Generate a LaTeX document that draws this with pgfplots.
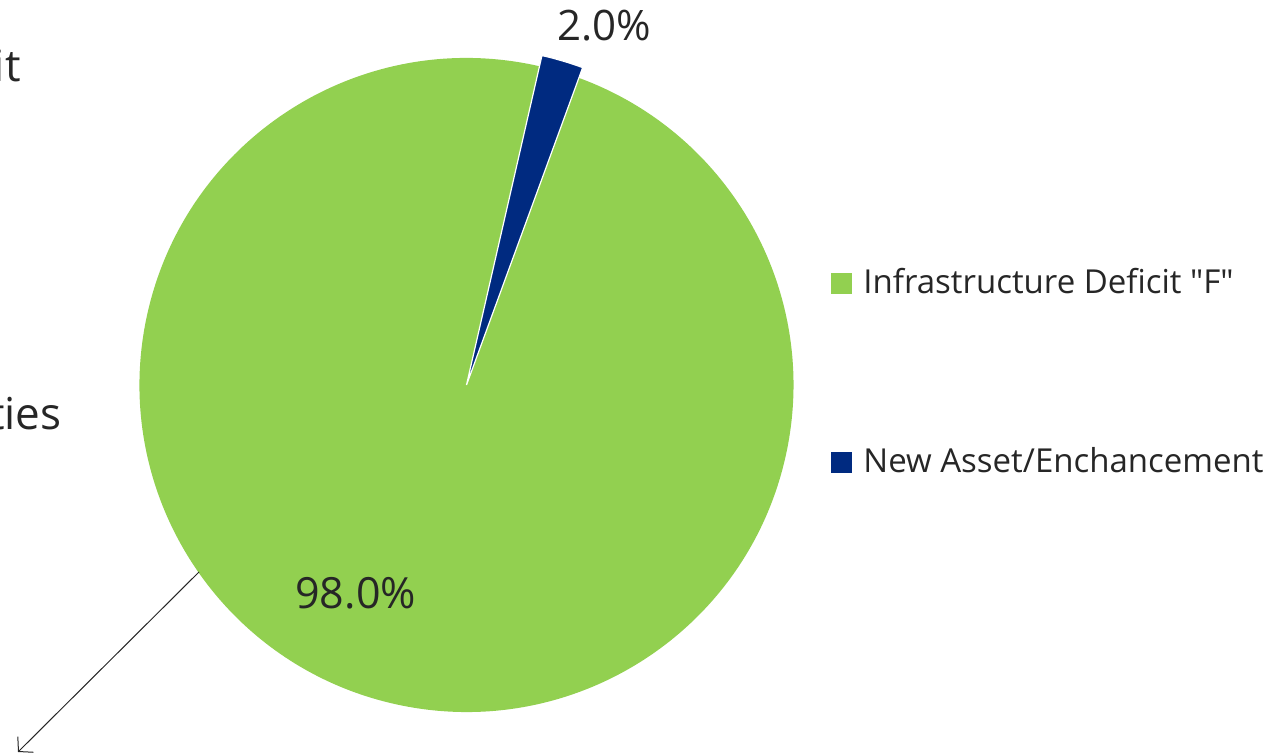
\documentclass[border=0pt]{standalone}
\usepackage{pgfplots}
\pgfplotsset{compat=1.18}
\usepackage{pgfplotstable}
\usetikzlibrary{arrows.meta}
\usepackage{fontspec}
\setmainfont{Open Sans}[Ligatures=TeXOff]
\definecolor{pgreen}{HTML}{92D050}
\definecolor{pblue}{HTML}{002A80}
\definecolor{ptext}{HTML}{262626}
\pgfplotstableread{
value
98.0
2.0
}\piedata
\begin{document}
\begin{tikzpicture}[x=0.5pt,y=0.5pt]
\useasboundingbox (0,0) rectangle (1276,755);
\clip (0,0) rectangle (1276,755);
\pgfplotstablegetelem{0}{value}\of\piedata \let\vA\pgfplotsretval
\pgfplotstablegetelem{1}{value}\of\piedata \let\vB\pgfplotsretval
\pgfmathsetmacro\bstart{69.9}
\pgfmathsetmacro\bend{\bstart+3.6*\vB}
\pgfmathsetmacro\gend{\bend+3.6*\vA}
\pgfmathsetmacro\gx{466.5+327*cos(\bend)}
\pgfmathsetmacro\gy{370+327*sin(\bend)}
\pgfmathsetmacro\bx{466.5+338*cos(\bstart)}
\pgfmathsetmacro\by{370+338*sin(\bstart)}
\begin{axis}[at={(0,0)},anchor=origin,width=638pt,height=377.5pt,scale only axis,
  xmin=0,xmax=1276,ymin=0,ymax=755,hide axis,clip=false]
\fill[pgreen] (axis cs:466.5,370) -- (axis cs:\gx,\gy) arc[start angle=\bend, end angle=\gend, radius=163.5pt] -- cycle;
\fill[pblue,draw=white,line width=0.6pt] (axis cs:466.5,370) -- (axis cs:\bx,\by) arc[start angle=\bstart, end angle=\bend, radius=169pt] -- cycle;
\draw[ptext,line width=0.5pt,-{Straight Barb[length=5pt,width=11pt]}] (axis cs:199,183) -- (axis cs:18,3);
\node[anchor=base west,inner sep=0,text=ptext,font=\fontsize{21.5}{26}\selectfont] at (axis cs:295,146) {98.0\%};
\node[anchor=base west,inner sep=0,text=ptext,font=\fontsize{21}{25}\selectfont] at (axis cs:557,714.3) {2.0\%};
\fill[pgreen] (axis cs:831,461) rectangle (axis cs:852,482);
\node[anchor=base west,inner sep=0,text=ptext,font=\fontsize{16.5}{20}\selectfont] at (axis cs:863,461) {Infrastructure Deficit "F"};
\fill[pblue] (axis cs:831,282) rectangle (axis cs:852,303);
\node[anchor=base west,inner sep=0,text=ptext,font=\fontsize{16.5}{20}\selectfont] at (axis cs:863,282) {New Asset/Enchancement};
\node[anchor=base east,inner sep=0,text=ptext,font=\fontsize{22}{26}\selectfont] at (axis cs:21,673) {Deficit};
\node[anchor=base east,inner sep=0,text=ptext,font=\fontsize{22}{26}\selectfont] at (axis cs:62,325) {Facilities};
\node[anchor=base west,inner sep=0,text=ptext,font=\fontsize{22}{26}\selectfont] at (axis cs:500,765) {gap by};
\end{axis}
\end{tikzpicture}
\end{document}
